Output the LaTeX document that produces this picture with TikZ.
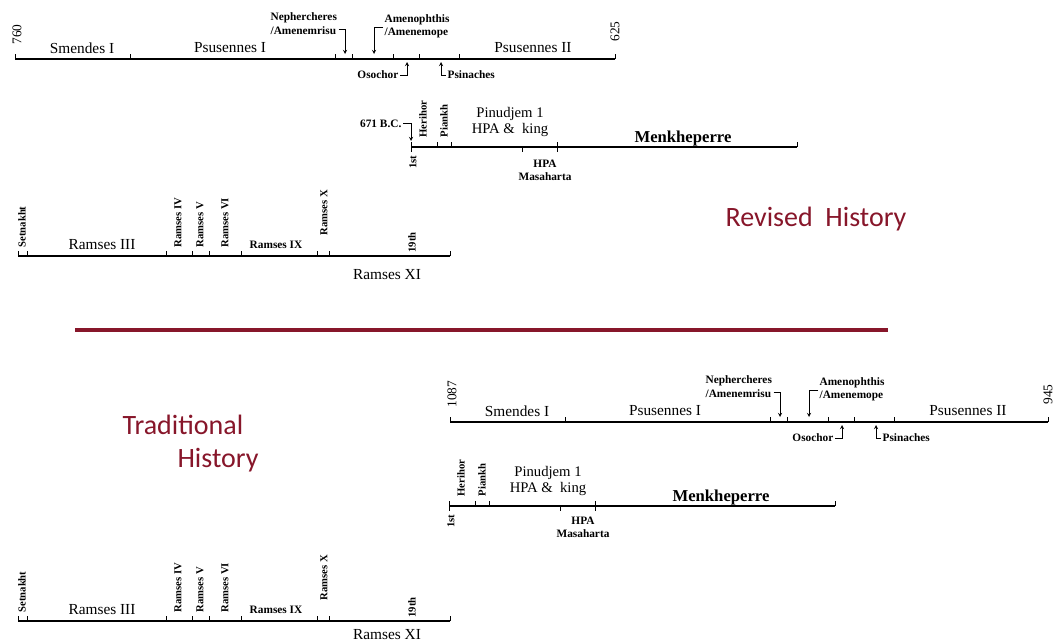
\documentclass[tikz,border=0pt]{standalone}
\usepackage{fontspec}
\setmainfont{Liberation Serif}
\newfontfamily\headfont{Carlito}
\usetikzlibrary{arrows}
\definecolor{histred}{RGB}{135,22,42}
\tikzstyle{axis} = [line width=1.2pt]
\tikzstyle{tick} = [line width=0.6pt]
\tikzstyle{pointer} = [thin,->,>=stealth]
\tikzstyle{reign} = [inner sep=1pt,font=\fontsize{11.5}{12}\selectfont]
\tikzstyle{minor} = [inner sep=1pt,align=left,font=\fontsize{8.5}{10}\selectfont\bfseries]
\tikzstyle{vlabel} = [inner sep=1pt,rotate=90,anchor=west,font=\fontsize{8}{9}\selectfont\bfseries]
\tikzstyle{year} = [inner sep=1pt,rotate=90,anchor=west,font=\fontsize{10}{10}\selectfont]
\tikzstyle{era} = [text=histred,font=\headfont\fontsize{21}{25}\selectfont]

\begin{document}
\begin{tikzpicture}[x=0.75pt,y=-0.75pt]
        \useasboundingbox (0,0) rectangle (1055,643);

        %% revised history
        \begin{scope}[name prefix=r-]
        % Psusennes line
        \coordinate (p0) at (15,59);
        \coordinate (p1) at (615,59);
        \draw [axis] (p0) -- (p1);
        \foreach \t in {15,130,335,352,393,419,459,615} \draw [tick] (\t,59) -- (\t,54);
        \node (y760) [year] at (17,46) {760};
        \node (y625) [year] at (615,43) {625};
        \node (smendes) [reign] at (82,48) {Smendes I};
        \node (psus1) [reign] at (230,48) {Psusennes I};
        \node (psus2) [reign] at (533,48) {Psusennes II};
        \node (neph) [minor,anchor=west] at (269,23.5) {Nephercheres\\/Amenemrisu};
        \coordinate (nephbend) at (345,29);
        \coordinate (nephtip) at (345,54);
        \draw [pointer] (neph.east |- nephbend) -- (nephbend) -- (nephtip);
        \node (amen) [minor,anchor=west] at (383,26) {Amenophthis\\/Amenemope};
        \coordinate (amenbend) at (374,27);
        \coordinate (amentip) at (374,54);
        \draw [pointer] (amen.west |- amenbend) -- (amenbend) -- (amentip);
        \node (osochor) [minor,anchor=east] at (400,75) {Osochor};
        \coordinate (osotip) at (407,62);
        \draw [pointer] (osochor.east) -| (osotip);
        \node (psinaches) [minor,anchor=west] at (446,75) {Psinaches};
        \coordinate (psintip) at (441,62);
        \draw [pointer] (psinaches.west) -| (psintip);

        % Menkheperre line
        \coordinate (m0) at (411,147);
        \coordinate (m1) at (797,147);
        \draw [axis] (m0) -- (m1);
        \foreach \t in {411,437,451,557,797} \draw [tick] (\t,147) -- (\t,142);
        \foreach \t in {411,522,557} \draw [tick] (\t,147) -- (\t,152);
        \node (bc) [minor,anchor=east] at (403,124) {671 B.C.};
        \coordinate (bcbend) at (411,123);
        \coordinate (bctip) at (411,141);
        \draw [pointer] (bc.east |- bcbend) -- (bcbend) -- (bctip);
        \node (herihor) [vlabel] at (423,139) {Herihor};
        \node (piankh) [vlabel] at (444,139) {Piankh};
        \node (pinudjem) [reign,align=center,font=\fontsize{11}{11.5}\selectfont] at (510,122) {Pinudjem 1\\HPA \&\ \ king};
        \node (menk) [inner sep=1pt,font=\fontsize{12.5}{13}\selectfont\bfseries] at (683,138) {Menkheperre};
        \node (first) [vlabel,anchor=east] at (413,154) {1st};
        \node (hpa) [minor,align=center] at (545,170) {HPA\\Masaharta};

        % Ramses line
        \coordinate (k0) at (18,256);
        \coordinate (k1) at (450,256);
        \draw [axis] (k0) -- (k1);
        \foreach \t in {18,27,166,192,209,241,317,329,450} \draw [tick] (\t,256) -- (\t,251);
        \node (setnakht) [vlabel] at (22,249) {Setnakht};
        \node (ramses3) [reign] at (102,245) {Ramses III};
        \node (ramses4) [vlabel] at (178,249) {Ramses IV};
        \node (ramses5) [vlabel] at (200,249) {Ramses V};
        \node (ramses6) [vlabel] at (225,249) {Ramses VI};
        \node (ramses9) [minor] at (276,245) {Ramses IX};
        \node (ramses10) [vlabel] at (324,237) {Ramses X};
        \node (nineteen) [vlabel] at (412,254) {19th};
        \node (ramses11) [reign] at (387,275) {Ramses XI};
        \end{scope}

        \node (revised) [era] at (816,219) {Revised\ \ History};

        % divider
        \coordinate (d0) at (75,330);
        \coordinate (d1) at (888,330);
        \draw [histred,line width=3pt] (d0) -- (d1);

        \node (trad) [era] at (183,425) {Traditional};
        \node (hist) [era] at (218,460) {History};

        %% traditional history
        \begin{scope}[name prefix=t-,shift={(435,363)}]
        % Psusennes line
        \coordinate (p0) at (15,59);
        \coordinate (p1) at (613,59);
        \draw [axis] (p0) -- (p1);
        \foreach \t in {15,130,335,352,393,419,459,613} \draw [tick] (\t,59) -- (\t,54);
        \node (y1087) [year] at (17,46) {1087};
        \node (y945) [year] at (613,43) {945};
        \node (smendes) [reign] at (82,48) {Smendes I};
        \node (psus1) [reign] at (230,48) {Psusennes I};
        \node (psus2) [reign] at (533,48) {Psusennes II};
        \node (neph) [minor,anchor=west] at (269,23.5) {Nephercheres\\/Amenemrisu};
        \coordinate (nephbend) at (345,29);
        \coordinate (nephtip) at (345,54);
        \draw [pointer] (neph.east |- nephbend) -- (nephbend) -- (nephtip);
        \node (amen) [minor,anchor=west] at (383,26) {Amenophthis\\/Amenemope};
        \coordinate (amenbend) at (374,27);
        \coordinate (amentip) at (374,54);
        \draw [pointer] (amen.west |- amenbend) -- (amenbend) -- (amentip);
        \node (osochor) [minor,anchor=east] at (400,75) {Osochor};
        \coordinate (osotip) at (407,62);
        \draw [pointer] (osochor.east) -| (osotip);
        \node (psinaches) [minor,anchor=west] at (446,75) {Psinaches};
        \coordinate (psintip) at (441,62);
        \draw [pointer] (psinaches.west) -| (psintip);
        \end{scope}

        \begin{scope}[name prefix=t-,shift={(38,359)}]
        % Menkheperre line
        \coordinate (m0) at (411,147);
        \coordinate (m1) at (797,147);
        \draw [axis] (m0) -- (m1);
        \foreach \t in {411,437,451,557,797} \draw [tick] (\t,147) -- (\t,142);
        \foreach \t in {411,522,557} \draw [tick] (\t,147) -- (\t,152);
        \node (herihor) [vlabel] at (423,139) {Herihor};
        \node (piankh) [vlabel] at (444,139) {Piankh};
        \node (pinudjem) [reign,align=center,font=\fontsize{11}{11.5}\selectfont] at (510,122) {Pinudjem 1\\HPA \&\ \ king};
        \node (menk) [inner sep=1pt,font=\fontsize{12.5}{13}\selectfont\bfseries] at (683,138) {Menkheperre};
        \node (first) [vlabel,anchor=east] at (413,154) {1st};
        \node (hpa) [minor,align=center] at (545,168) {HPA\\Masaharta};
        \end{scope}

        \begin{scope}[name prefix=t-,shift={(0,365)}]
        % Ramses line
        \coordinate (k0) at (18,256);
        \coordinate (k1) at (450,256);
        \draw [axis] (k0) -- (k1);
        \foreach \t in {18,27,166,192,209,241,317,329,450} \draw [tick] (\t,256) -- (\t,251);
        \node (setnakht) [vlabel] at (22,249) {Setnakht};
        \node (ramses3) [reign] at (102,245) {Ramses III};
        \node (ramses4) [vlabel] at (178,249) {Ramses IV};
        \node (ramses5) [vlabel] at (200,249) {Ramses V};
        \node (ramses6) [vlabel] at (225,249) {Ramses VI};
        \node (ramses9) [minor] at (276,245) {Ramses IX};
        \node (ramses10) [vlabel] at (324,237) {Ramses X};
        \node (nineteen) [vlabel] at (412,254) {19th};
        \node (ramses11) [reign] at (387,270) {Ramses XI};
        \end{scope}

      \end{tikzpicture}
\end{document}
